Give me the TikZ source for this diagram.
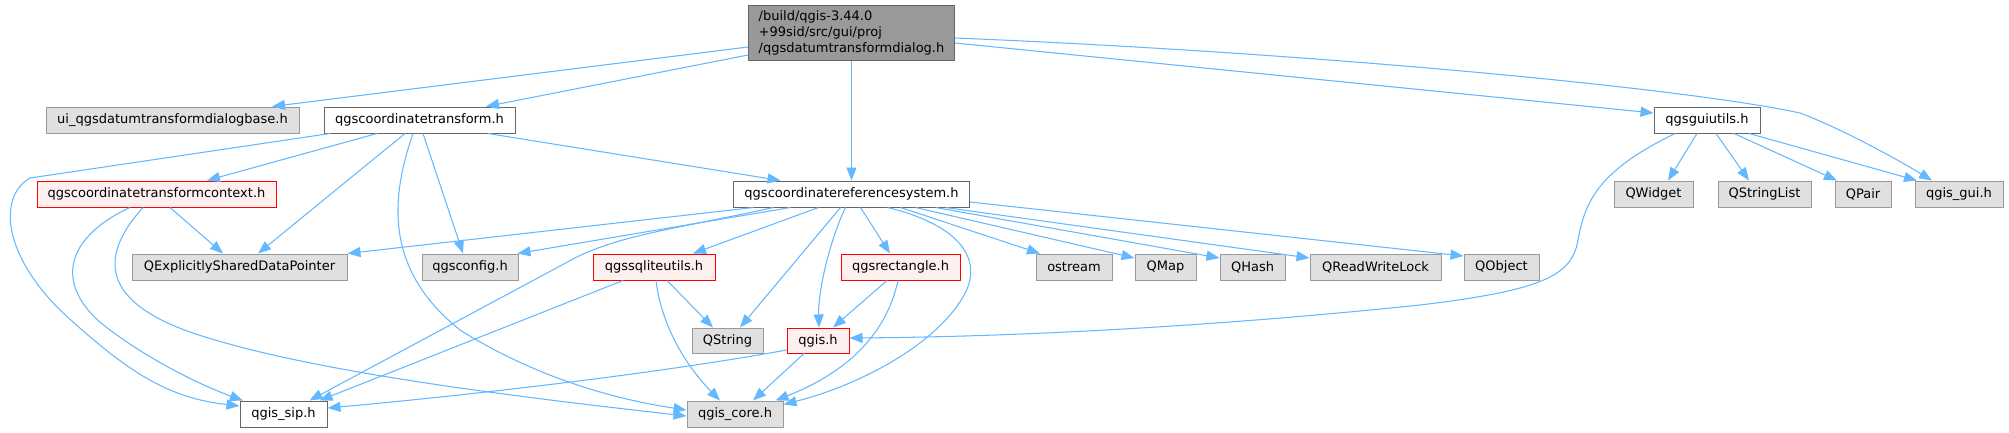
\documentclass[tikz,border=0pt]{standalone}
\usepackage{fontspec}
\setmainfont{DejaVu Sans}
\usetikzlibrary{arrows.meta}
\definecolor{edgec}{HTML}{63B8FF}
\definecolor{nodegray}{HTML}{E0E0E0}
\definecolor{bordergray}{HTML}{999999}
\definecolor{borderdark}{HTML}{666666}
\definecolor{redfill}{HTML}{FFF0F0}
\definecolor{mainfill}{HTML}{999999}
\begin{document}
\begin{tikzpicture}[x=1pt,y=-1pt,
  nd/.style={draw, rectangle, inner sep=0pt, minimum height=26pt, line width=1pt, font=\fontsize{13}{16}\selectfont},
  gry/.style={nd, fill=nodegray, draw=bordergray},
  wht/.style={nd, fill=white, draw=borderdark},
  rd/.style={nd, fill=redfill, draw=red},
  mainnd/.style={nd, fill=mainfill, draw=borderdark, align=left, minimum height=55pt},
  ed/.style={draw=edgec, line width=1.05pt, -{Triangle[length=13pt,width=10pt]}}]
\fill[white] (0,0) rectangle (2009,432);
\useasboundingbox (0,0) rectangle (2009,432);

% nodes
\node[mainnd, minimum width=206pt] (main) at (851.5,32.5) {/build/qgis-3.44.0\\+99sid/src/gui/proj\\/qgsdatumtransformdialog.h};
\node[gry, minimum width=253pt] (ui) at (172.5,120) {ui\_qgsdatumtransformdialogbase.h};
\node[wht, minimum width=191pt] (cts) at (419.5,120) {qgscoordinatetransform.h};
\node[wht, minimum width=106pt] (gui) at (1707,120) {qgsguiutils.h};
\node[rd, minimum width=239pt] (ctx) at (156.5,194) {qgscoordinatetransformcontext.h};
\node[wht, minimum width=236pt] (crs) at (851.5,194) {qgscoordinatereferencesystem.h};
\node[gry, minimum width=79pt] (qwidget) at (1653.5,194) {QWidget};
\node[gry, minimum width=93pt] (qstrlist) at (1764.5,194) {QStringList};
\node[gry, minimum width=56pt] (qpair) at (1863,194) {QPair};
\node[gry, minimum width=88pt] (qgisgui) at (1959,194) {qgis\_gui.h};
\node[gry, minimum width=215pt] (qesdp) at (239.5,267) {QExplicitlySharedDataPointer};
\node[gry, minimum width=96pt] (cfg) at (470,267) {qgsconfig.h};
\node[rd, minimum width=122pt] (sqlite) at (654,267) {qgssqliteutils.h};
\node[rd, minimum width=119pt] (rect) at (900.5,267) {qgsrectangle.h};
\node[gry, minimum width=76pt] (ostream) at (1074,267) {ostream};
\node[gry, minimum width=61pt] (qmap) at (1165.5,267) {QMap};
\node[gry, minimum width=65pt] (qhash) at (1252.5,267) {QHash};
\node[gry, minimum width=131pt] (qrwl) at (1375.5,267) {QReadWriteLock};
\node[gry, minimum width=75pt] (qobject) at (1501.5,267) {QObject};
\node[gry, minimum width=71pt, minimum height=25pt] (qstring) at (727.5,340.5) {QString};
\node[rd, minimum width=62pt, minimum height=25pt] (qgish) at (818,340.5) {qgis.h};
\node[wht, minimum width=87pt] (sip) at (283.5,414) {qgis\_sip.h};
\node[gry, minimum width=96pt] (core) at (735,414) {qgis\_core.h};

% edges from main
\draw[ed] ([yshift=-14.5pt]main.west) -- ([xshift=99.5pt]ui.north);
\draw[ed] ([yshift=-22.5pt]main.west) -- ([xshift=66.5pt]cts.north);
\draw[ed] (main.south) -- (crs.north);
\draw[ed] ([yshift=-10.5pt]main.east) -- ([yshift=7pt]gui.west);
\draw[ed] ([yshift=-5.5pt]main.east) .. controls (1300,52) and (1680,87) .. (1800,113) .. controls (1840,128) and (1895,158) .. ([xshift=-27pt]qgisgui.north);

% edges from qgscoordinatetransform.h
\draw[ed] ([xshift=-42.5pt]cts.south) -- ([xshift=50.5pt]ctx.north);
\draw[ed] ([xshift=-14.5pt]cts.south) -- ([xshift=18.5pt]qesdp.north);
\draw[ed] ([xshift=3.5pt]cts.south) -- ([xshift=-7pt]cfg.north);
\draw[ed] ([xshift=-6.5pt]cts.south) .. controls (390,200) and (385,270) .. (460,330) .. controls (540,380) and (620,400) .. ([yshift=4pt]core.west);
\draw[ed] ([xshift=-89.5pt]cts.south) -- (30,178) .. controls (0,195) and (0,250) .. (60,310) .. controls (130,375) and (170,398) .. ([yshift=8pt]sip.west);
\draw[ed] ([xshift=68.5pt]cts.south) -- ([xshift=-71pt]crs.north);

% edges from context
\draw[ed] ([xshift=13.5pt]ctx.south) -- ([xshift=-16.5pt]qesdp.north);
\draw[ed] ([xshift=-26.5pt]ctx.south) .. controls (60,240) and (55,290) .. (110,330) .. controls (150,360) and (200,385) .. ([xshift=-40.5pt]sip.north);
\draw[ed] ([xshift=-13.5pt]ctx.south) .. controls (100,255) and (100,300) .. (190,332) .. controls (300,370) and (500,395) .. ([yshift=-2pt]core.west);

% edges from crs
\draw[ed] ([xshift=-98pt]crs.south) -- (qesdp.north east);
\draw[ed] ([xshift=-61pt]crs.south) -- ([xshift=-1pt]cfg.north east);
\draw[ed] ([xshift=-78pt]crs.south) .. controls (680,228) and (620,235) .. (575,258) -- ([xshift=26pt]sip.north);
\draw[ed] ([xshift=-33pt]crs.south) -- ([xshift=39pt]sqlite.north);
\draw[ed] ([xshift=-11pt]crs.south) -- ([xshift=12.5pt]qstring.north);
\draw[ed] ([xshift=-6pt]crs.south) .. controls (830,240) and (818,290) .. ([xshift=1pt]qgish.north);
\draw[ed] ([xshift=9pt]crs.south) -- ([xshift=-10.5pt]rect.north);
\draw[ed] ([xshift=36pt]crs.south) .. controls (960,225) and (985,260) .. (963,297) .. controls (935,345) and (860,385) .. ([yshift=-4pt]core.north east);
\draw[ed] ([xshift=49pt]crs.south) -- ([xshift=-34pt]ostream.north);
\draw[ed] ([xshift=64pt]crs.south) -- ([yshift=9pt]qmap.west);
\draw[ed] ([xshift=84pt]crs.south) -- ([yshift=9pt]qhash.west);
\draw[ed] ([xshift=94pt]crs.south) -- ([yshift=9pt]qrwl.west);
\draw[ed] ([yshift=-8pt]crs.east) -- ([yshift=11pt]qobject.west);

% edges from sqlite
\draw[ed] ([xshift=13pt]sqlite.south) -- ([xshift=-14.5pt]qstring.north);
\draw[ed] ([xshift=2pt]sqlite.south) .. controls (662,330) and (690,370) .. ([xshift=-15pt]core.north);
\draw[ed] ([xshift=-31pt]sqlite.south) -- ([xshift=36pt]sip.north);

% edges from rectangle
\draw[ed] ([xshift=-13.5pt]rect.south) -- ([xshift=15pt]qgish.north);
\draw[ed] ([xshift=-2.5pt]rect.south) .. controls (885,340) and (840,375) .. ([xshift=-8pt]core.north east);

% edges from qgis.h
\draw[ed] ([xshift=-14pt]qgish.south) -- ([xshift=18pt]core.north);
\draw[ed] ([yshift=-9.5pt]qgish.west) .. controls (650,375) and (450,397) .. ([yshift=6pt]sip.east);

% edges from qgsguiutils.h
\draw[ed] ([xshift=-10pt]gui.south) -- ([xshift=14.5pt]qwidget.north);
\draw[ed] ([xshift=9pt]gui.south) -- ([xshift=-15.5pt]qstrlist.north);
\draw[ed] ([xshift=27pt]gui.south) -- ([xshift=-26pt]qpair.north);
\draw[ed] ([xshift=42pt]gui.south) -- ([xshift=-42pt]qgisgui.north);
\draw[ed] ([xshift=-32pt]gui.south) .. controls (1600,170) and (1585,200) .. (1578,240) .. controls (1572,275) and (1545,290) .. (1420,305) .. controls (1200,328) and (1000,337) .. ([yshift=2.5pt]qgish.east);
\end{tikzpicture}
\end{document}
